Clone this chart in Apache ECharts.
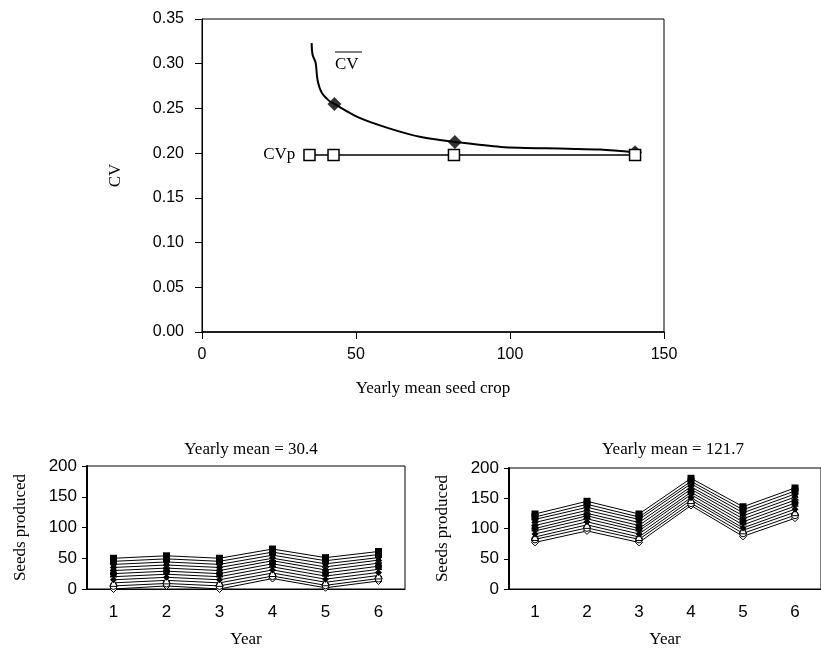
<!DOCTYPE html>
<html>
<head>
<meta charset="utf-8">
<script src="https://cdn.jsdelivr.net/npm/echarts@6/dist/echarts.min.js"></script>
<style>
  html, body { margin: 0; padding: 0; background: #fff; }
  #chart { width: 821px; height: 651px; }
</style>
</head>
<body>
<div id="chart"></div>
<script>
// top panel: mean CV curve and CVp
var cvCurveX = [35.6, 35.9, 36.9, 37.5, 38.8, 41.1, 43.0, 50.8, 60.5, 71.1, 82.1, 97.0, 118.7, 129.3, 140.6]
var cvCurveY = [0.323, 0.310, 0.301, 0.282, 0.268, 0.259, 0.255, 0.240, 0.228, 0.218, 0.2125, 0.207, 0.205, 0.204, 0.201]
var cvMarkX = [43.0, 82.1, 140.6]
var cvMarkY = [0.255, 0.2125, 0.201]
var cvpX = [34.9, 42.7, 81.8, 140.6]
var cvpY = [0.198, 0.198, 0.198, 0.198]

// bottom panels: seeds produced per year, one array per tree
var years = ['1', '2', '3', '4', '5', '6']
var lowMean = [
  [50, 54, 50, 65, 51, 61],
  [45, 49, 45, 60, 46, 56],
  [40, 44, 40, 55, 41, 51],
  [35, 39, 35, 50, 36, 47],
  [30, 34, 30, 46, 31, 42],
  [25, 29, 25, 41, 26, 37],
  [20, 24, 20, 36, 21, 32],
  [15, 19, 15, 31, 16, 27],
  [10, 14, 10, 26, 11, 22],
  [5, 9, 5, 21, 6, 17],
  [0, 5, 0, 17, 2, 13]
]
var highMean = [
  [124, 145, 124, 183, 136, 167],
  [119, 140, 119, 178, 131, 162],
  [115, 135, 115, 174, 126, 157],
  [110, 130, 110, 169, 121, 152],
  [105, 125, 105, 165, 116, 147],
  [100, 121, 100, 160, 111, 142],
  [96, 116, 96, 156, 106, 137],
  [91, 111, 91, 151, 101, 132],
  [86, 106, 86, 147, 97, 127],
  [82, 101, 82, 142, 92, 122],
  [77, 96, 77, 138, 87, 117]
]

var pathX = 'path://M0,1L1,0L5,4L9,0L10,1L6,5L10,9L9,10L5,6L1,10L0,9L4,5Z'
var pathPlus = 'path://M4,0H6V4H10V6H6V10H4V6H0V4H4Z'
var pathStar = 'path://M4,0H6V4H10V6H6V10H4V6H0V4H4Z M1,0L5,4L9,0L10,1L6,5L10,9L9,10L5,6L1,10L0,9L4,5L0,1Z'
var pathDash = 'path://M0,4H10V6H0Z'
var markers = [
  { symbol: 'rect', hollow: false },
  { symbol: pathDash, hollow: false },
  { symbol: 'triangle', hollow: false },
  { symbol: pathX, hollow: false },
  { symbol: pathStar, hollow: false },
  { symbol: 'circle', hollow: false },
  { symbol: pathPlus, hollow: false },
  { symbol: 'diamond', hollow: false },
  { symbol: 'triangle', hollow: true },
  { symbol: 'circle', hollow: true },
  { symbol: 'diamond', hollow: true }
]

var serif = 'Liberation Serif'
var sans = 'Liberation Sans'

function zip(xs, ys) {
  return xs.map(function (x, i) { return [x, ys[i]] })
}

function seedSeries(rows, idx) {
  return rows.map(function (vals, i) {
    var m = markers[i]
    return {
      type: 'line',
      xAxisIndex: idx,
      yAxisIndex: idx,
      data: vals,
      symbol: m.symbol,
      symbolSize: 7,
      showAllSymbol: true,
      lineStyle: { color: '#000', width: 1 },
      itemStyle: {
        color: m.hollow ? '#fff' : '#000',
        borderColor: '#000',
        borderWidth: m.hollow ? 1 : 0
      },
      z: 20 - i,
      animation: false
    }
  })
}

function seedXAxis(idx) {
  return {
    type: 'category',
    gridIndex: idx,
    data: years,
    boundaryGap: true,
    name: 'Year',
    nameLocation: 'middle',
    nameGap: 42,
    nameTextStyle: { fontFamily: serif, fontSize: 17, color: '#000' },
    axisLine: { lineStyle: { color: '#000', width: 1 } },
    axisTick: { length: 5, lineStyle: { color: '#000' } },
    axisLabel: { margin: 15, fontFamily: sans, fontSize: 17, color: '#000' },
    splitLine: { show: false }
  }
}

function seedYAxis(idx) {
  return {
    type: 'value',
    gridIndex: idx,
    min: 0,
    max: 200,
    interval: 50,
    name: 'Seeds produced',
    nameLocation: 'middle',
    nameGap: 58,
    nameTextStyle: { fontFamily: serif, fontSize: 17, color: '#000' },
    axisLine: { show: true, lineStyle: { color: '#000', width: 2 } },
    axisTick: { show: true, length: 5, lineStyle: { color: '#000' } },
    axisLabel: { margin: 10, fontFamily: sans, fontSize: 17, color: '#000' },
    splitLine: { show: false }
  }
}

var chart = echarts.init(document.getElementById('chart'))

chart.setOption({
  backgroundColor: '#fff',
  animation: false,
  title: [
    {
      text: 'Yearly mean = 30.4',
      left: 246, top: 436, textAlign: 'center',
      textStyle: { fontFamily: serif, fontSize: 17, fontWeight: 'normal', color: '#000' }
    },
    {
      text: 'Yearly mean = 121.7',
      left: 668, top: 436, textAlign: 'center',
      textStyle: { fontFamily: serif, fontSize: 17, fontWeight: 'normal', color: '#000' }
    }
  ],
  grid: [
    { left: 202, top: 19, width: 462, height: 313, show: true, borderColor: '#000', borderWidth: 1 },
    { left: 87, top: 466, width: 318, height: 123, show: true, borderColor: '#000', borderWidth: 1 },
    { left: 509, top: 468, width: 320, height: 121, show: true, borderColor: '#000', borderWidth: 1 }
  ],
  xAxis: [
    {
      type: 'value',
      gridIndex: 0,
      min: 0,
      max: 150,
      interval: 50,
      name: 'Yearly mean seed crop',
      nameLocation: 'middle',
      nameGap: 48,
      nameTextStyle: { fontFamily: serif, fontSize: 17, color: '#000' },
      axisLine: { lineStyle: { color: '#000', width: 1.5 } },
      axisTick: { length: 7, lineStyle: { color: '#000' } },
      axisLabel: { margin: 15, fontFamily: sans, fontSize: 16, color: '#000' },
      splitLine: { show: false }
    },
    seedXAxis(1),
    seedXAxis(2)
  ],
  yAxis: [
    {
      type: 'value',
      gridIndex: 0,
      min: 0,
      max: 0.35,
      interval: 0.05,
      name: 'CV',
      nameLocation: 'middle',
      nameGap: 78,
      nameTextStyle: { fontFamily: serif, fontSize: 17, color: '#000' },
      axisLine: { show: true, lineStyle: { color: '#000', width: 1 } },
      axisTick: { show: true, length: 7, lineStyle: { color: '#000' } },
      axisLabel: {
        margin: 18, fontFamily: sans, fontSize: 16, color: '#000',
        formatter: function (v) { return v.toFixed(2) }
      },
      splitLine: { show: false }
    },
    seedYAxis(1),
    seedYAxis(2)
  ],
  graphic: [
    {
      type: 'text',
      left: 335, top: 56,
      style: { text: 'CV', fontFamily: serif, fontSize: 17, fill: '#000' }
    },
    {
      type: 'line',
      shape: { x1: 335, y1: 52, x2: 362, y2: 52 },
      style: { stroke: '#000', lineWidth: 1 }
    }
  ],
  series: [
    {
      type: 'line',
      xAxisIndex: 0, yAxisIndex: 0,
      data: zip(cvCurveX, cvCurveY),
      smooth: 0.3,
      showSymbol: false,
      lineStyle: { color: '#000', width: 2 },
      z: 5
    },
    {
      type: 'scatter',
      xAxisIndex: 0, yAxisIndex: 0,
      data: zip(cvMarkX, cvMarkY),
      symbol: 'diamond',
      symbolSize: 14,
      itemStyle: { color: '#000' },
      z: 6
    },
    {
      type: 'line',
      xAxisIndex: 0, yAxisIndex: 0,
      data: zip(cvpX, cvpY),
      symbol: 'rect',
      symbolSize: 11,
      lineStyle: { color: '#000', width: 1.5 },
      itemStyle: { color: '#fff', borderColor: '#000', borderWidth: 1.5 },
      label: {
        show: true,
        position: 'left',
        distance: 8,
        fontFamily: serif,
        fontSize: 17,
        color: '#000',
        formatter: function (p) { return p.dataIndex === 0 ? 'CVp' : '' }
      },
      z: 7
    }
  ].concat(seedSeries(lowMean, 1), seedSeries(highMean, 2))
})
</script>
</body>
</html>
